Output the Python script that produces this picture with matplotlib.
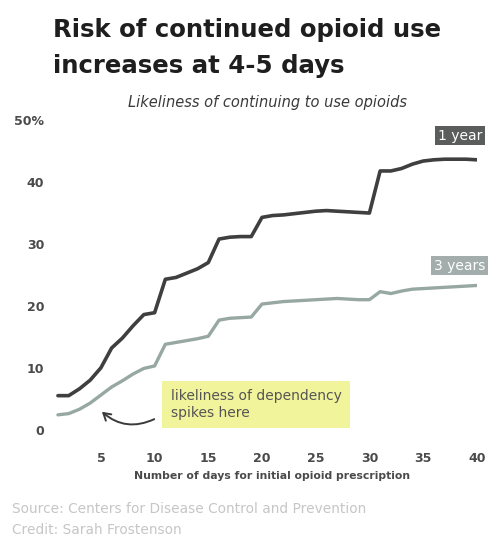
"""Continued opioid use by length of the first prescription (1-year and 3-year curves)."""
import matplotlib

matplotlib.use("Agg")

import matplotlib.pyplot as plt
from matplotlib.patches import FancyArrowPatch

DAYS = list(range(1, 41))
ONE_YEAR = [5.5, 5.5, 6.6, 8.0, 10.0, 13.2, 14.8, 16.8, 18.6, 18.9,
            24.3, 24.6, 25.3, 26.0, 27.0, 30.8, 31.1, 31.2, 31.2, 34.3,
            34.6, 34.7, 34.9, 35.1, 35.3, 35.4, 35.3, 35.2, 35.1, 35.0,
            41.8, 41.8, 42.2, 42.9, 43.4, 43.6, 43.7, 43.7, 43.7, 43.6]
THREE_YEARS = [2.4, 2.6, 3.3, 4.3, 5.6, 6.9, 7.9, 9.0, 9.9, 10.3,
               13.8, 14.1, 14.4, 14.7, 15.1, 17.7, 18.0, 18.1, 18.2, 20.3,
               20.5, 20.7, 20.8, 20.9, 21.0, 21.1, 21.2, 21.1, 21.0, 21.0,
               22.3, 22.0, 22.4, 22.7, 22.8, 22.9, 23.0, 23.1, 23.2, 23.3]
X_TICKS = [5, 10, 15, 20, 25, 30, 35, 40]
Y_TICKS = [0, 10, 20, 30, 40, 50]
Y_LABELS = ["0", "10", "20", "30", "40", "50%"]

DARK = "#3f3f3f"
TEAL = "#97a8a3"
FONT = "DejaVu Sans"

W, H = 492, 539
fig = plt.figure(figsize=(W / 100, H / 100), dpi=100)
fig.patch.set_facecolor("white")
# axes box placed in pixel units: x 0..40 -> 47..477 px, y 0..50 -> 430..120 px
ax = fig.add_axes([47.2 / W, (H - 429.7) / H, 429.6 / W, 309.5 / H])
ax.set_xlim(0, 40)
ax.set_ylim(0, 50)
for s in ax.spines.values():
    s.set_visible(False)

ax.plot(DAYS, ONE_YEAR, color=DARK, lw=2.6, solid_joinstyle="round",
        solid_capstyle="round")
ax.plot(DAYS, THREE_YEARS, color=TEAL, lw=2.4, solid_joinstyle="round",
        solid_capstyle="round")

ax.set_xticks(X_TICKS)
ax.set_xticklabels([str(t) for t in X_TICKS], family=FONT, fontsize=9,
                   fontweight="bold", color="#4a4a4a")
ax.set_yticks(Y_TICKS)
ax.set_yticklabels(Y_LABELS, family=FONT, fontsize=9, fontweight="bold",
                   color="#4a4a4a")
ax.tick_params(axis="x", length=0, pad=16)
ax.tick_params(axis="y", length=0, pad=2)
ax.set_xlabel("Number of days for initial opioid prescription", family=FONT,
              fontsize=7.8, fontweight="bold", color="#4a4a4a")
ax.xaxis.set_label_coords(0.523, -0.135)

# series labels
ax.text(40.5, ONE_YEAR[-1] + 3.9, "1 year", family=FONT, fontsize=10,
        color="white", ha="right", va="center", clip_on=False,
        bbox=dict(boxstyle="square,pad=0.2", fc="#5b5d5d", ec="none"))
ax.text(40.8, THREE_YEARS[-1] + 3.2, "3 years", family=FONT, fontsize=10,
        color="white", ha="right", va="center", clip_on=False,
        bbox=dict(boxstyle="square,pad=0.2", fc="#a3adab", ec="none"))

# annotation
ax.text(11.5, 4.1, "likeliness of dependency\nspikes here", family=FONT,
        fontsize=10, color="#555555", ha="left", va="center", linespacing=1.25,
        bbox=dict(boxstyle="square,pad=0.6", fc="#f1f49b", ec="none"))
ax.add_patch(FancyArrowPatch((10.2, 1.9), (4.9, 3.2),
                             connectionstyle="arc3,rad=-0.35",
                             arrowstyle="->,head_length=5,head_width=3",
                             color="#3a3a3a", lw=1.4, clip_on=False))

fig.text(53 / W, 1 - 30 / H, "Risk of continued opioid use", family=FONT,
         fontsize=17.6, fontweight="bold", color="#1e1e1e", va="center")
fig.text(53 / W, 1 - 66 / H, "increases at 4-5 days", family=FONT,
         fontsize=17.6, fontweight="bold", color="#1e1e1e", va="center")
fig.text(268 / W, 1 - 103 / H, "Likeliness of continuing to use opioids",
         family=FONT, fontsize=10.5, style="italic", color="#3a3a3a",
         ha="center", va="center")
fig.text(12 / W, 1 - 509 / H, "Source: Centers for Disease Control and Prevention",
         family=FONT, fontsize=9.9, color="#c6c6c6", va="center")
fig.text(12 / W, 1 - 530 / H, "Credit: Sarah Frostenson", family=FONT,
         fontsize=9.9, color="#c6c6c6", va="center")

fig.savefig("out.png", dpi=100)
